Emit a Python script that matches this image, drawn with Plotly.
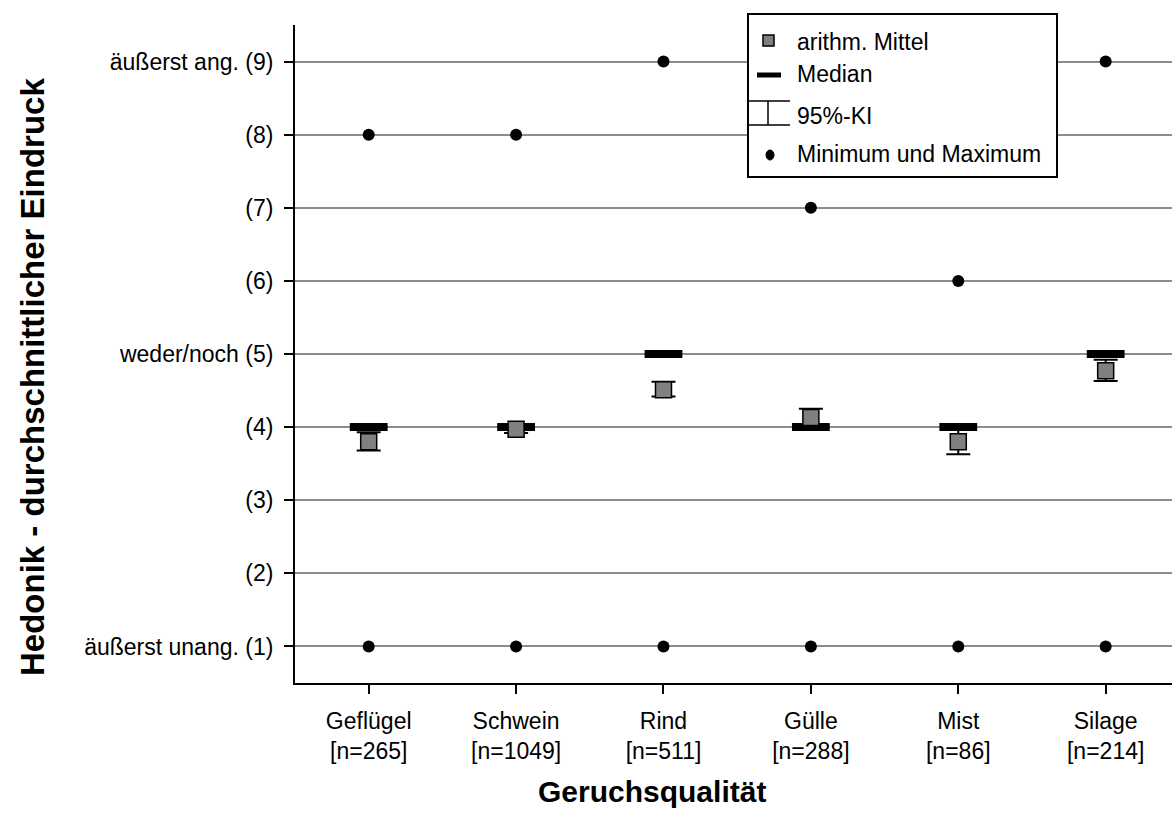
import plotly.graph_objects as go

categories = ["Geflügel<br>[n=265]", "Schwein<br>[n=1049]", "Rind<br>[n=511]",
              "Gülle<br>[n=288]", "Mist<br>[n=86]", "Silage<br>[n=214]"]
mean_vals = [3.80, 3.97, 4.51, 4.13, 3.80, 4.77]
median_vals = [4, 4, 5, 4, 4, 5]
ci_low = [3.68, 3.92, 4.42, 4.00, 3.63, 4.63]
ci_high = [3.93, 4.03, 4.62, 4.25, 3.97, 4.92]
min_vals = [1, 1, 1, 1, 1, 1]
max_vals = [8, 8, 9, 7, 6, 9]
y_tickvals = [1, 2, 3, 4, 5, 6, 7, 8, 9]
y_ticktext = ["äußerst unang. (1)", "(2)", "(3)", "(4)", "weder/noch (5)",
              "(6)", "(7)", "(8)", "äußerst ang. (9)"]

FONT = "Arial, Liberation Sans, sans-serif"
FS = 23
x = list(range(len(categories)))

fig = go.Figure()
# 95%-KI
fig.add_trace(go.Scatter(
    x=x, y=mean_vals, mode="markers", marker=dict(size=1, opacity=0),
    error_y=dict(type="data", symmetric=False,
                 array=[h - m for h, m in zip(ci_high, mean_vals)],
                 arrayminus=[m - l for m, l in zip(mean_vals, ci_low)],
                 color="black", thickness=2, width=12),
    showlegend=False, hoverinfo="skip"))
# Median
fig.add_trace(go.Scatter(
    x=x, y=median_vals, mode="markers",
    marker=dict(symbol="line-ew", size=27, line=dict(width=8, color="black")),
    showlegend=False))
# Mean
fig.add_trace(go.Scatter(
    x=x, y=mean_vals, mode="markers",
    marker=dict(symbol="square", size=16, color="#808080",
                line=dict(width=1.5, color="black")),
    showlegend=False))
# Min / Max
fig.add_trace(go.Scatter(
    x=x + x, y=min_vals + max_vals, mode="markers",
    marker=dict(symbol="circle", size=12, color="black"),
    showlegend=False))

# Plot area geometry (pixels) for the hand-drawn legend
L, R, T, B = 295, 1172, 25, 683
W, H = R - L, B - T
def px(v):
    return (v - L) / W
def py(v):
    return (B - v) / H

shapes = [
    dict(type="rect", xref="paper", yref="paper", x0=px(748), x1=px(1057),
         y0=py(177), y1=py(14), line=dict(color="black", width=2),
         fillcolor="white", layer="above"),
    dict(type="rect", xref="paper", yref="paper", x0=px(763), x1=px(774),
         y0=py(46), y1=py(35), line=dict(color="black", width=1.5),
         fillcolor="#808080", layer="above"),
    dict(type="line", xref="paper", yref="paper", x0=px(757), x1=px(781),
         y0=py(75), y1=py(75), line=dict(color="black", width=5), layer="above"),
    dict(type="line", xref="paper", yref="paper", x0=px(748), x1=px(790),
         y0=py(101), y1=py(101), line=dict(color="black", width=1.5), layer="above"),
    dict(type="line", xref="paper", yref="paper", x0=px(748), x1=px(790),
         y0=py(125), y1=py(125), line=dict(color="black", width=1.5), layer="above"),
    dict(type="line", xref="paper", yref="paper", x0=px(768), x1=px(768),
         y0=py(101), y1=py(125), line=dict(color="black", width=1.5), layer="above"),
    dict(type="circle", xref="paper", yref="paper", x0=px(766), x1=px(774),
         y0=py(160), y1=py(150), line=dict(color="black", width=1),
         fillcolor="black", layer="above"),
]
legend_texts = [("arithm. Mittel", 42), ("Median", 74), ("95%-KI", 116),
                ("Minimum und Maximum", 154)]
annotations = [dict(text=t, xref="paper", yref="paper", x=px(795), y=py(yy),
                    xanchor="left", yanchor="middle", showarrow=False,
                    font=dict(family=FONT, size=FS, color="black"))
               for t, yy in legend_texts]
annotations.append(dict(text="<b>Hedonik - durchschnittlicher Eindruck</b>",
                        xref="paper", yref="paper", x=px(32), y=py(377),
                        xanchor="center", yanchor="middle", textangle=-90,
                        showarrow=False, font=dict(family=FONT, size=33, color="black")))
annotations.append(dict(text="<b>Geruchsqualität</b>", xref="paper", yref="paper",
                        x=px(652), y=py(791), xanchor="center", yanchor="middle",
                        showarrow=False, font=dict(family=FONT, size=30, color="black")))

fig.update_layout(
    width=1172, height=830, autosize=False,
    margin=dict(l=L, r=1172 - R, t=T, b=830 - B, pad=0),
    paper_bgcolor="white", plot_bgcolor="white",
    font=dict(family=FONT, size=FS, color="black"),
    shapes=shapes, annotations=annotations, showlegend=False,
    xaxis=dict(range=[-0.5, 5.45], tickvals=x, ticktext=categories,
               showgrid=False, zeroline=False, showline=True, linecolor="black",
               linewidth=2, ticks="outside", ticklen=9, tickwidth=2,
               tickcolor="black", ticklabelstandoff=7,
               tickfont=dict(family=FONT, size=FS)),
    yaxis=dict(range=[0.5, 9.5], tickvals=y_tickvals, ticktext=y_ticktext,
               showgrid=True, gridcolor="#8c8c8c", gridwidth=2, zeroline=False,
               showline=True, linecolor="black", linewidth=2, ticks="outside",
               ticklen=9, tickwidth=2, tickcolor="black", ticklabelstandoff=6,
               tickfont=dict(family=FONT, size=FS)),
)

fig.write_html("out.html")
